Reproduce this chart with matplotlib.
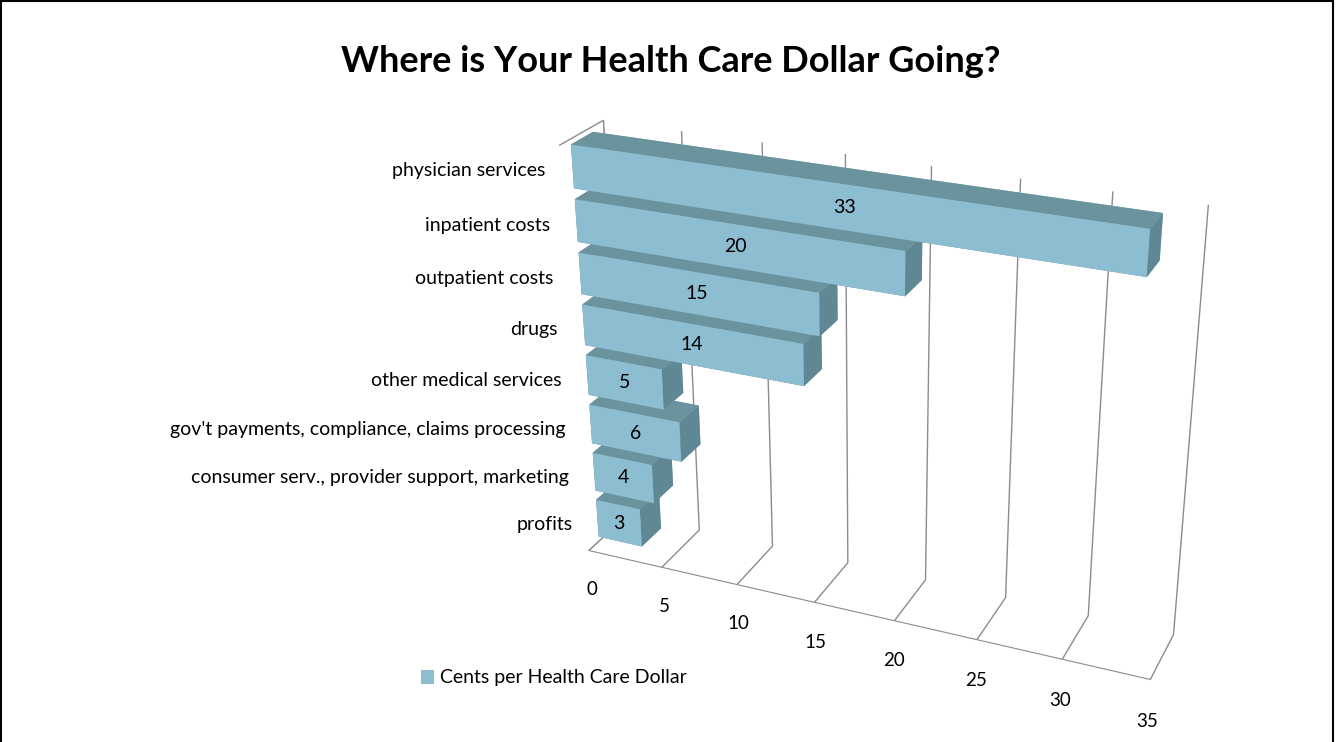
import matplotlib
matplotlib.use("Agg")
import matplotlib.pyplot as plt
from matplotlib.patches import Patch, Rectangle
import numpy as np

# data
categories = [
    "physician services",
    "inpatient costs",
    "outpatient costs",
    "drugs",
    "other medical services",
    "gov't payments, compliance, claims processing",
    "consumer serv., provider support, marketing",
    "profits",
]
cents = [33, 20, 15, 14, 5, 6, 4, 3]
value_ticks = [0, 5, 10, 15, 20, 25, 30, 35]
series_name = "Cents per Health Care Dollar"
title = "Where is Your Health Care Dollar Going?"

FRONT = "#8dbdd0"
TOP = "#6b939e"
END = "#5f8894"
GRID = "#8c8c8c"

plt.rcParams["font.family"] = ["Lato", "DejaVu Sans"]

fig = plt.figure(figsize=(13.36, 7.42), dpi=100)
ax = fig.add_axes([0.305, 0.018, 0.68, 0.88], projection="3d")
ax.set_proj_type("persp", focal_length=0.55)
ax.view_init(elev=26, azim=-67)
ax.set_box_aspect((10.9, 1.5, 8.0), zoom=1.17)

n = len(categories)
slot = np.arange(n)[::-1].astype(float)  # first category on top
bar_h = 0.8
y0, depth = 0.25, 0.5

# bar3d face order: -z, +z, -y, +y, -x, +x
face_colors = [TOP, TOP, FRONT, FRONT, END, END] * n
ax.bar3d(np.zeros(n), np.full(n, y0), slot + (1 - bar_h) / 2,
         np.array(cents, dtype=float), np.full(n, depth), np.full(n, bar_h),
         color=face_colors, shade=False, edgecolor="none")

ax.set_xlim(0, 35)
ax.set_ylim(0, 1)
ax.set_zlim(0, n)
ax.set_xticks(value_ticks)
ax.set_xticklabels([])
ax.set_yticks([])
ax.set_zticks([])
ax.grid(True)
ax.xaxis._axinfo["grid"].update(color=GRID, linewidth=1.0, linestyle="-")
ax.xaxis._axinfo["tick"]["inward_factor"] = 0
ax.xaxis._axinfo["tick"]["outward_factor"] = 0

for axis in (ax.xaxis, ax.yaxis, ax.zaxis):
    axis.set_pane_color((1, 1, 1, 1))
    axis.pane.set_edgecolor("none")
ax.xaxis.pane.set_edgecolor(GRID)
ax.xaxis.line.set_color(GRID)
ax.yaxis.line.set_color("none")
ax.zaxis.line.set_color("none")

for v in value_ticks:
    ax.text(v, 0, -0.85, str(v), ha="center", va="center", fontsize=13.5, zorder=10)

for s, cat, v in zip(slot, categories, cents):
    ax.text(-1.0, 0, s + 0.5, cat, ha="right", va="center", fontsize=14, zorder=10)
    ax.text(v / 2, y0, s + 0.5, str(v), ha="center", va="center", fontsize=14, zorder=10)

fig.text(0.502, 1 - 62 / 742, title, ha="center", va="center", fontsize=26, fontweight="bold")

fig.legend(handles=[Patch(facecolor=FRONT, label=series_name)], loc="center left",
           bbox_to_anchor=(403 / 1336, 1 - 678 / 742), frameon=False, fontsize=14,
           handlelength=0.7, handleheight=0.7, handletextpad=0.3)

fig.patches.append(Rectangle((0.001, -0.01), 0.997, 1.0085, transform=fig.transFigure,
                             fill=False, edgecolor="black", lw=1.5))

fig.savefig("out.png", dpi=100)
